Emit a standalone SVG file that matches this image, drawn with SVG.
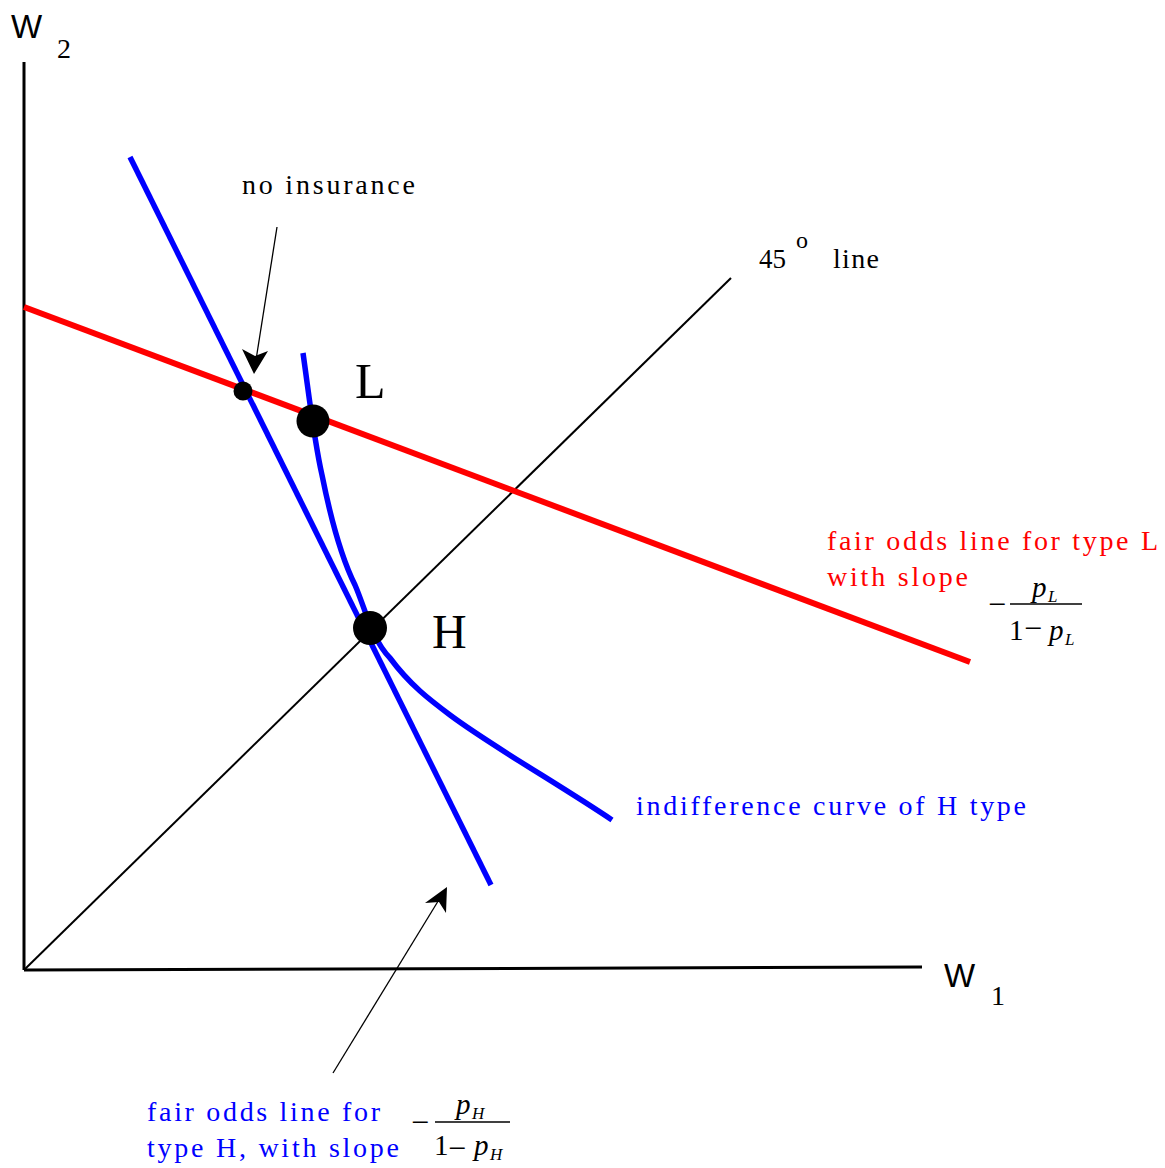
<svg xmlns="http://www.w3.org/2000/svg" width="1165" height="1168" viewBox="0 0 1165 1168">
<defs>
<style>
.serif{font-family:"Liberation Serif","Times New Roman",serif}
.sans{font-family:"Liberation Sans",Arial,sans-serif}
.ital{font-family:"Liberation Serif","Times New Roman",serif;font-style:italic}
</style>
</defs>
<rect width="1165" height="1168" fill="#fff"/>
<g id="axes">
<line x1="24" y1="62" x2="24" y2="970" stroke="#000" stroke-width="3"/>
<line x1="24" y1="970" x2="922" y2="967" stroke="#000" stroke-width="3"/>
<text class="sans" x="11" y="38" font-size="33">W</text>
<text class="serif" x="57" y="58" font-size="28">2</text>
<text class="sans" x="944" y="987" font-size="33">W</text>
<text class="serif" x="991" y="1005" font-size="28">1</text>
</g>
<g id="connectors">
<line id="line45" x1="24" y1="970" x2="731" y2="278" stroke="#000" stroke-width="2"/>
<line id="redline" x1="24" y1="307" x2="970" y2="662" stroke="#ff0000" stroke-width="6"/>
<line id="blueline" x1="130" y1="157" x2="491" y2="885" stroke="#0000ff" stroke-width="5.5"/>
<path id="indiff" d="M303,353 C309,395 314,440 322,475 C330,515 340,555 355,585 C365,608 372,640 390,658 C410,685 430,700 450,715 C490,745 560,785 612,820" fill="none" stroke="#0000ff" stroke-width="5.5"/>
<g stroke="#000" stroke-width="1.3" fill="none">
<line x1="277" y1="227" x2="256" y2="360"/>
<line x1="333" y1="1073" x2="440" y2="898"/>
</g>
<path d="M254,374 L242,349 L255,356 L268,351 Z" fill="#000"/>
<path d="M447,887 L446,913 L439,902 L425,903 Z" fill="#000"/>
</g>
<g id="noinsurance">
<circle cx="243" cy="391" r="9.5" fill="#000"/>
<text class="serif" x="242" y="194" font-size="28" textLength="173" lengthAdjust="spacing">no insurance</text>
</g>
<g id="L">
<circle cx="313" cy="421" r="16.5" fill="#000"/>
<text class="serif" x="355" y="398" font-size="50">L</text>
</g>
<g id="H">
<circle cx="370" cy="628" r="17" fill="#000"/>
<text class="serif" x="432" y="648" font-size="48">H</text>
</g>
<g id="label45">
<text class="serif" x="759" y="268" font-size="27">45</text>
<text class="serif" x="796" y="248" font-size="24">o</text>
<text class="serif" x="833" y="268" font-size="28" textLength="46" lengthAdjust="spacing">line</text>
</g>
<g id="labelL" fill="#ff0000">
<text class="serif" x="827" y="550" font-size="28" textLength="331" lengthAdjust="spacing">fair odds line for type L</text>
<text class="serif" x="827" y="586" font-size="28" textLength="141" lengthAdjust="spacing">with slope</text>
</g>
<g id="fracL">
<text class="serif" x="988" y="615" font-size="32">−</text>
<text class="ital" x="1032" y="597" font-size="29">p</text>
<text class="ital" x="1048" y="602" font-size="17">L</text>
<line x1="1010" y1="604" x2="1082" y2="604" stroke="#000" stroke-width="1.3"/>
<text class="serif" x="1009" y="640" font-size="29">1</text>
<text class="serif" x="1024" y="639" font-size="32">−</text>
<text class="ital" x="1049" y="640" font-size="29">p</text>
<text class="ital" x="1065" y="645" font-size="17">L</text>
</g>
<g id="labelIndiff">
<text class="serif" x="636" y="815" font-size="28" fill="#0000ff" textLength="390" lengthAdjust="spacing">indifference curve of H type</text>
</g>
<g id="labelH" fill="#0000ff">
<text class="serif" x="147" y="1121" font-size="28" textLength="233" lengthAdjust="spacing">fair odds line for</text>
<text class="serif" x="147" y="1157" font-size="28" textLength="252" lengthAdjust="spacing">type H, with slope</text>
</g>
<g id="fracH">
<text class="serif" x="411" y="1133" font-size="32">−</text>
<text class="ital" x="456" y="1114" font-size="29">p</text>
<text class="ital" x="472" y="1119" font-size="17">H</text>
<line x1="435" y1="1122" x2="510" y2="1122" stroke="#000" stroke-width="1.3"/>
<text class="serif" x="434" y="1155" font-size="29">1</text>
<text class="serif" x="448" y="1159" font-size="32">−</text>
<text class="ital" x="474" y="1155" font-size="29">p</text>
<text class="ital" x="490" y="1160" font-size="17">H</text>
</g>
</svg>
